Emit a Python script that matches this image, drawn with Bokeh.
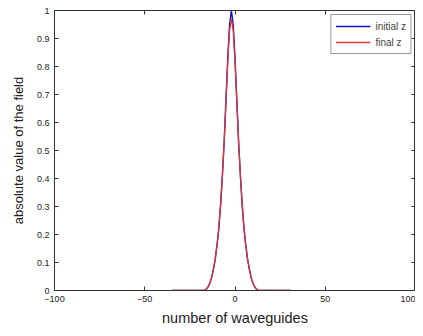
from bokeh.plotting import figure
from bokeh.models import LinearAxis, FixedTicker, Range1d, Legend, LegendItem
from bokeh.embed import file_html
from bokeh.resources import INLINE

n = list(range(-35, 36))
tail = [0.0] * 19
core_initial = [0.004, 0.012, 0.025, 0.045, 0.075, 0.11, 0.16, 0.22, 0.30, 0.41, 0.53, 0.68, 0.83, 0.95]
core_final = [0.004, 0.012, 0.025, 0.045, 0.075, 0.11, 0.16, 0.22, 0.31, 0.41, 0.53, 0.68, 0.82, 0.93]
initial_z = tail + core_initial + [1.00] + core_initial[::-1] + tail
final_z = tail + core_final + [0.97] + core_final[::-1] + tail

x_ticks = [-100, -50, 0, 50, 100]
y_ticks = [0, 0.1, 0.2, 0.3, 0.4, 0.5, 0.6, 0.7, 0.8, 0.9, 1]

FONT = "Liberation Sans"

p = figure(width=415, height=328, output_backend="svg", toolbar_location=None,
           x_range=Range1d(-100, 100), y_range=Range1d(0, 1),
           min_border_left=54, min_border_right=0, min_border_top=10, min_border_bottom=35)
p.xgrid.visible = False
p.ygrid.visible = False
p.outline_line_color = "#333333"
p.outline_line_width = 1

def style(ax, ticks):
    ax.ticker = FixedTicker(ticks=ticks)
    ax.major_tick_in = 4
    ax.major_tick_out = 0
    ax.minor_tick_line_color = None
    ax.axis_line_color = "#333333"
    ax.major_tick_line_color = "#333333"
    ax.major_label_text_font = FONT
    ax.major_label_text_font_size = "9px"
    ax.major_label_text_color = "#222222"
    ax.axis_label_text_font = FONT
    ax.axis_label_text_font_size = "13px"
    ax.axis_label_text_font_style = "normal"
    ax.axis_label_text_color = "#222222"

style(p.xaxis[0], x_ticks)
style(p.yaxis[0], y_ticks)
p.xaxis[0].axis_label = "number of waveguides"
p.yaxis[0].axis_label = "absolute value of the field"
p.xaxis[0].axis_label_text_font_size = "14.5px"
p.xaxis[0].major_label_standoff = 5
p.yaxis[0].major_label_standoff = 5
p.xaxis[0].axis_label_standoff = 5
p.yaxis[0].axis_label_standoff = 8

top = LinearAxis()
style(top, x_ticks)
top.major_label_overrides = {t: "" for t in x_ticks}
top.major_label_standoff = 0
p.add_layout(top, "above")
right = LinearAxis()
style(right, y_ticks)
right.major_label_overrides = {t: "" for t in y_ticks}
right.major_label_standoff = 0
p.add_layout(right, "right")

r1 = p.line(n, initial_z, line_color="#1010b8", line_width=1.4)
r2 = p.line(n, final_z, line_color="#e03535", line_width=1.3)

legend = Legend(items=[LegendItem(label="initial z", renderers=[r1]),
                       LegendItem(label="final z", renderers=[r2])],
                location="top_right")
legend.label_text_font = FONT
legend.label_text_font_size = "10px"
legend.glyph_width = 35
legend.glyph_height = 14
legend.spacing = 2
legend.padding = 4
legend.margin = 4
legend.label_standoff = 5
legend.border_line_color = "#333333"
legend.label_height = 14
p.add_layout(legend)

open("out.html", "w").write(file_html(p, INLINE))
